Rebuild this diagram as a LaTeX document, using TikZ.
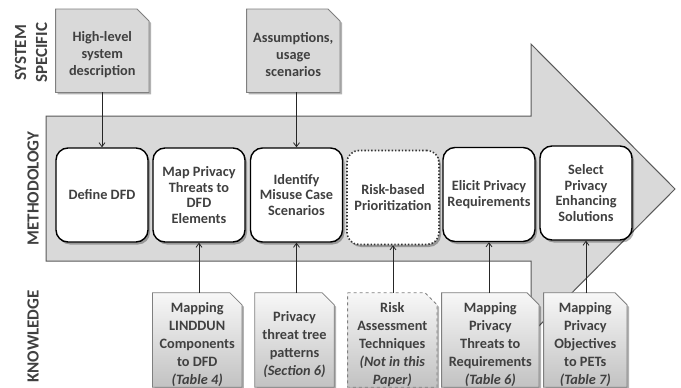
\documentclass[tikz,border=0pt]{standalone}
\usepackage{fontspec}
\setmainfont{Carlito}
\usetikzlibrary{shadows,arrows.meta,calc}
\pgfdeclarelayer{arrowlayer}
\pgfdeclarelayer{doclayer}
\pgfsetlayers{arrowlayer,doclayer,main}
\definecolor{txt}{HTML}{404040}
\definecolor{arrowfill}{HTML}{D9D9D9}
\definecolor{arrowline}{HTML}{595959}
\definecolor{docline}{HTML}{7F7F7F}
\definecolor{docfill}{HTML}{D9D9D9}
\newcommand{\lowertext}{\rule{0pt}{18.5pt}}
\tikzset{
  lbl/.style={font=\fontsize{17}{21}\selectfont\bfseries, text=txt, align=center, rotate=90, inner sep=0pt},
  stepbox/.style={draw=black, line width=1.4pt, rounded corners=12pt, fill=white,
    minimum width=92pt, minimum height=94pt, inner sep=0pt, align=center,
    font=\fontsize{14.3}{15.5}\selectfont\bfseries, text=txt,
    drop shadow={shadow xshift=2pt, shadow yshift=-2.5pt, fill=black, opacity=0.3}},
  riskbox/.style={stepbox, draw=black!80, dotted, line width=1.6pt},
  docnode/.style={align=center, font=\fontsize{14.3}{17}\selectfont\bfseries, text=txt, inner sep=0pt},
  bdocnode/.style={docnode, font=\fontsize{14.3}{18}\selectfont\bfseries, minimum height=94pt},
  topdoc/.style={fill=docfill, draw=docline, line width=0.8pt,
    drop shadow={shadow xshift=2pt, shadow yshift=-2pt, fill=black, opacity=0.3}},
  botdoc/.style={top color=gray!6, bottom color=gray!48, draw=docline, line width=0.8pt,
    drop shadow={shadow xshift=2pt, shadow yshift=-2pt, fill=black, opacity=0.3}},
  riskdoc/.style={botdoc, dashed},
  link/.style={-{Straight Barb[length=4pt,width=6pt]}, line width=0.8pt, black!85},
  bigarrow/.style={fill=arrowfill, draw=arrowline, line width=1pt},
}
\begin{document}
\begin{tikzpicture}[x=1pt,y=-1pt]
\useasboundingbox (0,0) rectangle (681,388);

% big process arrow
\begin{pgfonlayer}{arrowlayer}
\path[bigarrow] (46,116) -- (531,116) -- (531,44) -- (675,189) -- (531,334) -- (531,261) -- (46,261) -- cycle;
\end{pgfonlayer}

% side labels
\node[lbl] (lsys) at (31,53) {SYSTEM\\SPECIFIC};
\node[lbl] (lmeth) at (33,188.5) {METHODOLOGY};
\node[lbl] (lknow) at (33,336.5) {KNOWLEDGE};

% methodology steps
\node[stepbox] (m1) at (102,195) {Define DFD};
\node[stepbox] (m2) at (199,195) {Map Privacy\\Threats to\\DFD\\Elements};
\node[stepbox] (m3) at (296.5,195) {Identify\\Misuse Case\\Scenarios};
\node[riskbox] (m4) at (393,197.5) {Risk-based\\Prioritization};
\node[stepbox] (m5) at (489,194.5) {Elicit Privacy\\Requirements};
\node[stepbox] (m6) at (586,193) {Select\\Privacy\\Enhancing\\Solutions};

% system specific documents
\node[docnode, minimum width=93pt, minimum height=83pt] (t1) at (102.3,50.7) {\lowertext High-level\\system\\description};
\node[docnode, minimum width=93pt, minimum height=83pt] (t2) at (293.3,50.7) {\lowertext Assumptions,\\usage\\scenarios};

% knowledge documents
\node[bdocnode, minimum width=89pt] (b1) at (197.2,340) {\lowertext Mapping\\LINDDUN\\Components\\to DFD\\{\itshape (Table 4)}};
\node[bdocnode, minimum width=79pt] (b2) at (294.5,340) {\lowertext Privacy\\threat tree\\patterns\\{\itshape (Section 6)}};
\node[bdocnode, minimum width=89pt] (b3) at (392.3,340) {\lowertext Risk\\Assessment\\Techniques\\{\itshape (Not in this}\\{\itshape Paper)}};
\node[bdocnode, minimum width=97pt] (b4) at (490.3,340) {\lowertext Mapping\\Privacy\\Threats to\\Requirements\\{\itshape (Table 6)}};
\node[bdocnode, minimum width=83pt] (b5) at (585.3,340) {\lowertext Mapping\\Privacy\\Objectives\\to PETs\\{\itshape (Table 7)}};

% document outlines (folded corner)
\begin{pgfonlayer}{doclayer}
\foreach \n in {t1,t2}{
  \path[topdoc] (\n.north west) -- ([xshift=-12pt]\n.north east) -- ([yshift=-12pt]\n.north east) -- (\n.south east) -- (\n.south west) -- cycle;
}
\foreach \n in {b1,b2,b4,b5}{
  \path[botdoc] (\n.north west) -- ([xshift=-12pt]\n.north east) -- ([yshift=-12pt]\n.north east) -- (\n.south east) -- (\n.south west) -- cycle;
}
\path[riskdoc] (b3.north west) -- ([xshift=-12pt]b3.north east) -- ([yshift=-12pt]b3.north east) -- (b3.south east) -- (b3.south west) -- cycle;
\end{pgfonlayer}

% connectors
\draw[link] (t1.south -| m1.north) -- (m1.north);
\draw[link] (t2.south -| m3.north) -- (m3.north);
\draw[link] (b1.north -| m2.south) -- (m2.south);
\draw[link] (b2.north -| m3.south) -- (m3.south);
\draw[link] (b3.north -| m4.south) -- (m4.south);
\draw[link] (b4.north -| m5.south) -- (m5.south);
\draw[link] (b5.north -| m6.south) -- (m6.south);
\end{tikzpicture}
\end{document}
